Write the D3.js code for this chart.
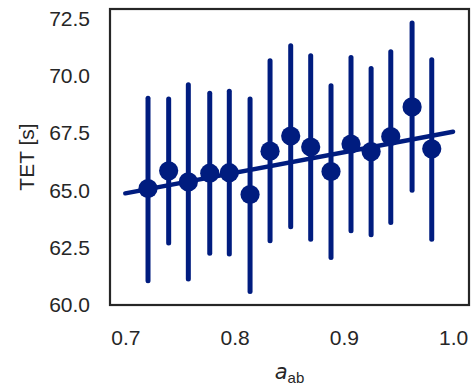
<!DOCTYPE html>
<html><head><meta charset="utf-8">
<script src="https://cdn.jsdelivr.net/npm/d3@7"></script>
<style>body{margin:0;background:#fff;}svg{display:block;}</style>
</head><body>
<script>
const binX = [0.7208,0.7397,0.7577,0.7773,0.7952,0.8142,0.8325,0.8514,0.8697,0.8883,0.9066,0.9250,0.9430,0.9625,0.9805];
const meanTET = [65.08,65.85,65.37,65.75,65.77,64.82,66.71,67.37,66.89,65.82,67.02,66.69,67.35,68.64,66.81];
const ciLow = [61.06,62.70,61.13,62.26,62.22,60.59,62.80,63.41,62.87,62.07,63.24,63.06,63.60,65.01,62.87];
const ciHigh = [69.02,68.98,69.61,69.24,69.32,68.98,70.65,71.31,70.87,69.56,70.80,70.32,71.05,72.30,70.70];
const fitX = [0.7, 1.0];
const fitY = [64.87, 67.56];
const xTicks = [0.7, 0.8, 0.9, 1.0];
const yTicks = [60.0, 62.5, 65.0, 67.5, 70.0, 72.5];

const W = 473, H = 385;
const L = 110, R = 469, T = 9, B = 305;
const color = "#001c7f";
const svg = d3.select("body").append("svg").attr("width", W).attr("height", H);
const x = d3.scaleLinear().domain([0.686, 1.0146]).range([L, R]);
const y = d3.scaleLinear().domain([60, 72.91]).range([B, T]);
const font = "'Liberation Sans', Arial, sans-serif";

// axes (labels only, no tick marks)
const xAxis = svg.append("g").attr("transform", `translate(0,${B})`)
  .call(d3.axisBottom(x).tickValues(xTicks).tickFormat(d3.format(".1f")).tickSize(0).tickPadding(25));
const yAxis = svg.append("g").attr("transform", `translate(${L},0)`)
  .call(d3.axisLeft(y).tickValues(yTicks).tickFormat(d3.format(".1f")).tickSize(0).tickPadding(20));
[xAxis, yAxis].forEach(g => {
  g.select(".domain").remove();
  g.selectAll("text").attr("fill", "#262626").style("font-family", font).style("font-size", "21px");
});

// error bars
const data = binX.map((v, i) => ({x: v, m: meanTET[i], lo: ciLow[i], hi: ciHigh[i]}));
svg.append("g").selectAll("line").data(data).join("line")
  .attr("x1", d => x(d.x)).attr("x2", d => x(d.x))
  .attr("y1", d => y(d.lo)).attr("y2", d => y(d.hi))
  .attr("stroke", color).attr("stroke-width", 5).attr("stroke-linecap", "round");

// regression line
svg.append("path")
  .attr("d", d3.line().x(d => x(d[0])).y(d => y(d[1]))(fitX.map((v, i) => [v, fitY[i]])))
  .attr("stroke", color).attr("stroke-width", 4.5).attr("fill", "none").attr("stroke-linecap", "round");

// points
svg.append("g").selectAll("circle").data(data).join("circle")
  .attr("cx", d => x(d.x)).attr("cy", d => y(d.m)).attr("r", 9.6).attr("fill", color);

// frame
svg.append("rect").attr("x", L).attr("y", T).attr("width", R - L).attr("height", B - T)
  .attr("fill", "none").attr("stroke", "#262626").attr("stroke-width", 2.2);

// y label
svg.append("text").attr("transform", `translate(34,${(T + B) / 2}) rotate(-90)`)
  .attr("text-anchor", "middle").attr("fill", "#262626")
  .style("font-family", font).style("font-size", "21px").text("TET [s]");

// x label
const xl = svg.append("text").attr("x", (L + R) / 2).attr("y", 379).attr("text-anchor", "middle")
  .attr("fill", "#262626").style("font-family", "'DejaVu Sans', sans-serif").style("font-size", "21px");
xl.append("tspan").style("font-style", "italic").text("a");
xl.append("tspan").attr("dy", 3.5).style("font-size", "15px").style("font-family", font).text("ab");
</script>
</body></html>
